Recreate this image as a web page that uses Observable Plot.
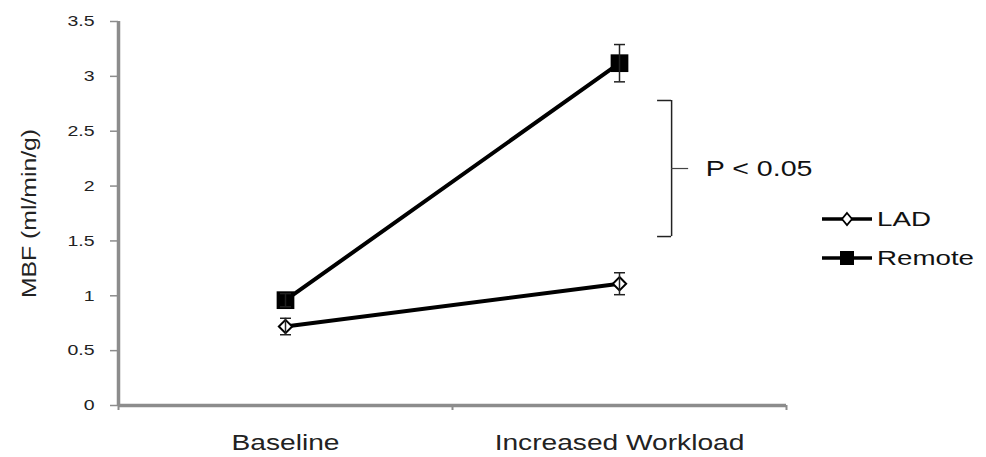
<!DOCTYPE html>
<html><head><meta charset="utf-8">
<script src="https://cdn.jsdelivr.net/npm/d3@7"></script>
<script src="https://cdn.jsdelivr.net/npm/@observablehq/plot@0.6"></script>
<style>
body{margin:0;background:#fff;font-family:"Liberation Sans",Arial,sans-serif;}
#wrap{position:relative;width:986px;height:457px;overflow:hidden;}
#legend{position:absolute;left:818px;top:200px;}
</style></head><body><div id="wrap"><div id="legend"></div></div>
<script>
// ---- data ----
const categories = ["Baseline", "Increased Workload"];
const seriesNames = ["LAD", "Remote"];
const ladMean = [0.72, 1.11];
const ladErr = [0.075, 0.10];
const remoteMean = [0.96, 3.12];
const remoteErr = [0.06, 0.17];
const yTicks = [0, 0.5, 1, 1.5, 2, 2.5, 3, 3.5];
const yLabel = "MBF (ml/min/g)";
const pText = "P < 0.05";
const pBracketLow = 1.54;
const pBracketHigh = 2.78;

// ---- build table ----
const rows = [];
categories.forEach((c, i) => {
  rows.push({series: "LAD", cat: c, x: i + 0.5, y: ladMean[i], err: ladErr[i]});
  rows.push({series: "Remote", cat: c, x: i + 0.5, y: remoteMean[i], err: remoteErr[i]});
});
const caps = rows.flatMap(d => [{x: d.x, y: d.y - d.err}, {x: d.x, y: d.y + d.err}]);
const capSymbol = {draw(ctx, size) { const r = Math.sqrt(size / Math.PI); ctx.moveTo(-r, 0); ctx.lineTo(r, 0); }};

const gray = "#8c8c8c";
const lastX = categories.length - 0.5;
const bracketX = lastX + 0.156, serifX = lastX + 0.114, tickEndX = lastX + 0.207, textX = lastX + 0.258;
const pMid = (pBracketLow + pBracketHigh) / 2;

const chart = Plot.plot({
  width: 986, height: 457,
  marginLeft: 118, marginRight: 200, marginTop: 21, marginBottom: 52,
  x: {domain: [0, categories.length]},
  y: {domain: [0, 3.5]},
  style: {fontFamily: "'Liberation Sans', Arial, sans-serif", color: "#222", background: "#fff"},
  marks: [
    Plot.axisY(yTicks, {tickFormat: d => String(d), tickSize: 8, tickPadding: 16, stroke: gray, strokeWidth: 1.5, fontSize: 15, label: null}),
    Plot.axisX(d3.range(categories.length + 1), {tickFormat: () => "", tickSize: 5, stroke: gray, strokeWidth: 2, label: null}),
    Plot.axisX(categories.map((c, i) => i + 0.5), {tickFormat: d => categories[Math.floor(d)], tickSize: 0, tickPadding: 29, fontSize: 22, label: null}),
    Plot.ruleX([0], {stroke: gray, strokeWidth: 3.5}),
    Plot.ruleY([0], {stroke: gray, strokeWidth: 3.5}),
    Plot.text([yLabel], {frameAnchor: "left", textAnchor: "middle", rotate: -90, dx: -89, fontSize: 21, fill: "#222"}),
    Plot.line(rows, {x: "x", y: "y", z: "series", stroke: "#000", strokeWidth: 4}),
    Plot.dot(rows.filter(d => d.series === "Remote"), {x: "x", y: "y", symbol: "square", r: 10, fill: "#000", stroke: "none"}),
    Plot.dot(rows.filter(d => d.series === "LAD"), {x: "x", y: "y", symbol: "diamond2", r: 6, fill: "#fff", stroke: "#000", strokeWidth: 2}),
    Plot.ruleX(rows, {x: "x", y1: d => d.y - d.err, y2: d => d.y + d.err, stroke: "#222", strokeWidth: 1.5}),
    Plot.dot(caps, {x: "x", y: "y", symbol: capSymbol, r: 5.5, stroke: "#222", strokeWidth: 1.5, fill: "none"}),
    // significance bracket
    Plot.ruleX([bracketX], {y1: pBracketLow, y2: pBracketHigh, stroke: "#222", strokeWidth: 1.5}),
    Plot.ruleY([pBracketLow, pBracketHigh], {x1: serifX, x2: bracketX, stroke: "#222", strokeWidth: 1.5}),
    Plot.ruleY([pMid], {x1: bracketX, x2: tickEndX, stroke: "#444", strokeWidth: 1.2}),
    Plot.text([pText], {x: textX, y: pMid, textAnchor: "start", fontSize: 22, fill: "#111"})
  ]
});

// widen glyphs horizontally (the reference text is stretched)
function stretchEl(el, s) {
  let t = el.getAttribute("transform") || "";
  const x = el.getAttribute("x");
  if (x != null && !isNaN(+x)) {
    t += ` translate(${+x},0)`;
    el.removeAttribute("x");
  }
  el.setAttribute("transform", (t + ` scale(${s},1)`).trim());
}
function stretch(sel, s) { sel.selectAll("text").each(function () { stretchEl(this, s); }); }
const root = d3.select(chart);
stretch(root.select('g[aria-label="y-axis tick label"]'), 1.3);
root.selectAll('g[aria-label="x-axis tick label"]').each(function () { stretch(d3.select(this), 1.28); });
root.selectAll("text").each(function () {
  if (this.textContent === yLabel) stretchEl(this, 1.18);
  if (this.textContent === pText) stretchEl(this, 1.3);
});
document.getElementById("wrap").prepend(chart);

// ---- legend ----
const lg = d3.select("#legend").append("svg").attr("width", 168).attr("height", 80)
  .style("font-family", "'Liberation Sans', Arial, sans-serif");
seriesNames.forEach((name, i) => {
  const g = lg.append("g").attr("transform", `translate(0, ${19 + i * 39})`);
  g.append("line").attr("x1", 4).attr("x2", 54).attr("stroke", "#000").attr("stroke-width", 3.5);
  if (name === "LAD") {
    g.append("path").attr("d", "M29,-6L34,0L29,6L24,0Z").attr("fill", "#fff").attr("stroke", "#000").attr("stroke-width", 1.8);
  } else {
    g.append("rect").attr("x", 22).attr("y", -7).attr("width", 14).attr("height", 14).attr("fill", "#000");
  }
  g.append("text").attr("x", 59).attr("dy", "0.35em").attr("font-size", 21)
    .attr("fill", "#111").text(name);
});
stretch(lg, 1.32);
</script>
</body></html>
